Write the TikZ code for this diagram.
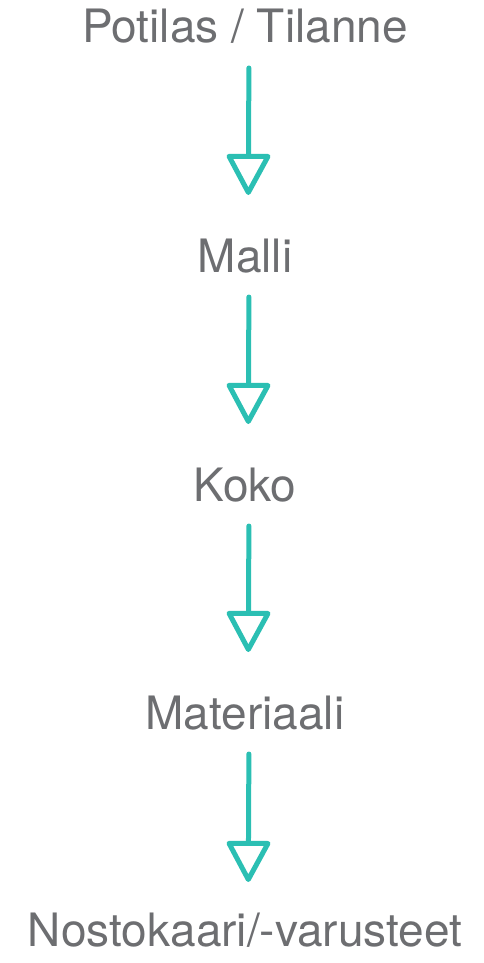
\documentclass[tikz,border=0pt]{standalone}
\usepackage{fontspec}
\setmainfont{TeX Gyre Heros}
\definecolor{stepgray}{RGB}{109, 110, 113}
\definecolor{stepteal}{RGB}{43, 191, 179}
\usetikzlibrary{
  arrows.meta,
  positioning,
}
\tikzset{
  >={Triangle[open,round,length=44pt,width=46pt]},
  label/.style={text=stepgray,font=\fontsize{46}{46}\selectfont,inner sep=0pt,anchor=base},
  flow/.style={->,draw=stepteal,line width=5pt,line cap=round,shorten <=25pt,shorten >=77pt},
}
\begin{document}
\begin{tikzpicture}[x=1pt,y=1pt]
      \useasboundingbox (0,0) rectangle (484,-963);

      \node[label]    (potilas)   at (245,-43)      {Potilas / Tilanne};
      \node[label]    (malli)     [below=229pt of potilas.base,anchor=base]    {Malli};
      \node[label]    (koko)      [below=229pt of malli.base,anchor=base]      {Koko};
      \node[label]    (materiaali) [below=228pt of koko.base,anchor=base]    {Materiaali};
      \node[label]    (nostokaari) [below=217pt of materiaali.base,anchor=base] {Nostokaari/-varusteet};

      \draw[flow] ([xshift=4pt]potilas.base) -- ([xshift=3pt]malli.base);
      \draw[flow] ([xshift=4pt]malli.base) -- ([xshift=3pt]koko.base);
      \draw[flow] ([xshift=4pt]koko.base) -- ([xshift=3pt]materiaali.base);
      \draw[flow,shorten >=64pt] ([xshift=4pt]materiaali.base) -- ([xshift=3pt]nostokaari.base);

    \end{tikzpicture}
\end{document}
